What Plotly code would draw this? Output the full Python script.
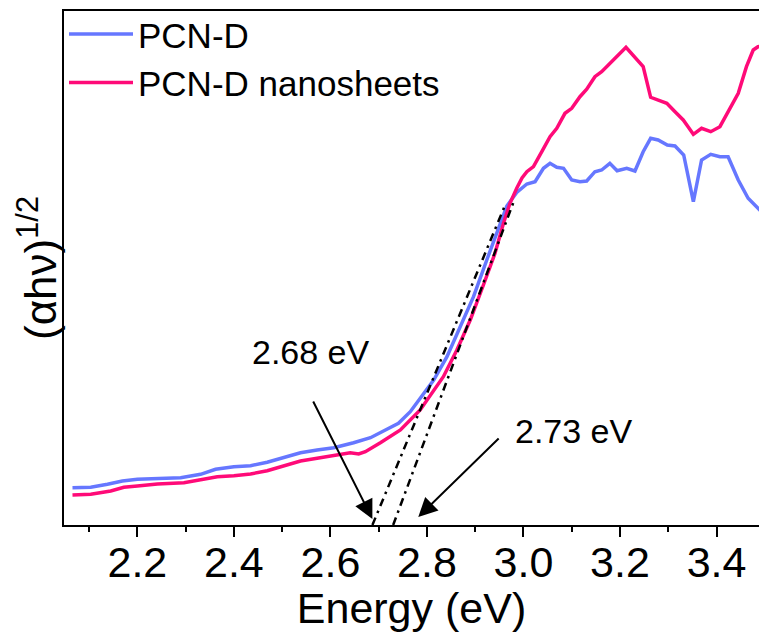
import plotly.graph_objects as go

# ---- data ----
pcn_d_energy = [2.0656, 2.1034, 2.138, 2.169, 2.200, 2.2415, 2.2897, 2.331, 2.362, 2.400,
                2.4345, 2.469, 2.503, 2.538, 2.5725, 2.607, 2.648, 2.683, 2.717, 2.741,
                2.7655, 2.786, 2.814, 2.8415, 2.869, 2.8965, 2.924, 2.948, 2.9655, 2.986,
                3.007, 3.024, 3.0414, 3.055, 3.069, 3.083, 3.100, 3.117, 3.131, 3.148,
                3.162, 3.179, 3.194, 3.214, 3.231, 3.248, 3.2635, 3.279, 3.298, 3.314,
                3.332, 3.352, 3.369, 3.388, 3.407, 3.424, 3.445, 3.4655, 3.486, 3.50]
pcn_d_signal = [0.373, 0.377, 0.407, 0.44, 0.457, 0.463, 0.473, 0.507, 0.557, 0.583,
                0.593, 0.627, 0.677, 0.723, 0.75, 0.773, 0.823, 0.873, 0.957, 1.017,
                1.133, 1.267, 1.45, 1.683, 1.983, 2.283, 2.65, 2.95, 3.19, 3.325,
                3.41, 3.433, 3.567, 3.617, 3.577, 3.567, 3.45, 3.433, 3.44, 3.533,
                3.55, 3.617, 3.543, 3.567, 3.54, 3.733, 3.867, 3.85, 3.80, 3.79,
                3.70, 3.233, 3.65, 3.707, 3.683, 3.683, 3.45, 3.267, 3.167, 3.10]

nano_energy = [2.0656, 2.1034, 2.1448, 2.172, 2.200, 2.2415, 2.2965, 2.331, 2.3656, 2.400,
               2.4345, 2.469, 2.503, 2.538, 2.5725, 2.607, 2.641, 2.6586, 2.6724, 2.7035,
               2.745, 2.786, 2.803, 2.834, 2.862, 2.8897, 2.917, 2.941, 2.9586, 2.972,
               2.986, 2.997, 3.007, 3.0207, 3.038, 3.055, 3.069, 3.086, 3.100, 3.117,
               3.131, 3.148, 3.162, 3.179, 3.1965, 3.2124, 3.2276, 3.248, 3.2635, 3.279,
               3.297, 3.314, 3.331, 3.341, 3.352, 3.369, 3.388, 3.407, 3.4276, 3.445,
               3.462, 3.476, 3.486, 3.50]
nano_signal = [0.30, 0.307, 0.34, 0.377, 0.39, 0.41, 0.423, 0.45, 0.483, 0.493,
               0.51, 0.543, 0.593, 0.64, 0.667, 0.697, 0.723, 0.71, 0.733, 0.823,
               0.95, 1.15, 1.267, 1.483, 1.75, 2.05, 2.40, 2.717, 3.017, 3.217,
               3.367, 3.47, 3.533, 3.583, 3.733, 3.883, 3.967, 4.117, 4.167, 4.283,
               4.357, 4.483, 4.533, 4.61, 4.70, 4.777, 4.69, 4.583, 4.277, 4.25,
               4.217, 4.133, 4.05, 3.983, 3.907, 3.967, 3.933, 3.983, 4.167, 4.317,
               4.583, 4.75, 4.783, 4.80]

# tangent (Tauc) extrapolation lines
tangent1_energy = [2.687, 2.962]
tangent1_signal = [0.0, 3.20]
tangent2_energy = [2.730, 2.981]
tangent2_signal = [0.0, 3.25]

# annotations: label text, label position, arrow tail, arrow tip
labels = ["2.68 eV", "2.73 eV"]
label_x = [2.5607, 3.1048]
label_y = [1.73, 0.94]
arrow_tail_x = [2.5628, 2.9517]
arrow_tail_y = [1.25, 0.88]
arrow_tip_x = [2.687, 2.782]
arrow_tip_y = [0.06, 0.08]

tick_vals = [2.2, 2.4, 2.6, 2.8, 3.0, 3.2, 3.4]
tick_text = ["2.2", "2.4", "2.6", "2.8", "3.0", "3.2", "3.4"]

FONT = "Liberation Sans, Arial, sans-serif"
BLUE = "#6677FF"
PINK = "#FF0A78"

fig = go.Figure()
fig.add_trace(go.Scatter(x=pcn_d_energy, y=pcn_d_signal, mode="lines", name="PCN-D",
                         line=dict(color=BLUE, width=3.5)))
fig.add_trace(go.Scatter(x=nano_energy, y=nano_signal, mode="lines", name="PCN-D nanosheets",
                         line=dict(color=PINK, width=3.5)))
fig.add_trace(go.Scatter(x=tangent1_energy, y=tangent1_signal, mode="lines", showlegend=False,
                         line=dict(color="black", width=2.5, dash="8px,5px,2.5px,5px")))
fig.add_trace(go.Scatter(x=tangent2_energy, y=tangent2_signal, mode="lines", showlegend=False,
                         line=dict(color="black", width=2.5, dash="8px,5px,2.5px,5px")))

for i in range(len(labels)):
    fig.add_annotation(x=label_x[i], y=label_y[i], text=labels[i], showarrow=False,
                       font=dict(family=FONT, size=34, color="black"),
                       xanchor="center", yanchor="middle")
    fig.add_annotation(x=arrow_tip_x[i], y=arrow_tip_y[i], ax=arrow_tail_x[i], ay=arrow_tail_y[i],
                       axref="x", ayref="y", text="", showarrow=True,
                       arrowhead=2, arrowsize=1.9, arrowwidth=2, arrowcolor="black")

# y-axis title
fig.add_annotation(xref="paper", yref="paper", x=0, y=0.5, xshift=-27,
                   text="(αhν)<sup>1/2</sup>", showarrow=False, textangle=-90,
                   font=dict(family=FONT, size=44, color="black"),
                   xanchor="center", yanchor="middle")

fig.update_layout(
    width=759, height=632,
    margin=dict(l=64, r=0, t=11, b=107),
    plot_bgcolor="white", paper_bgcolor="white",
    font=dict(family=FONT, color="black"),
    showlegend=True,
    legend=dict(x=0, y=1.012, xanchor="left", yanchor="top",
                font=dict(family=FONT, size=35, color="black"),
                bgcolor="rgba(0,0,0,0)", itemwidth=64, tracegroupgap=0),
    xaxis=dict(range=[2.048, 3.488], tickvals=tick_vals, ticktext=tick_text,
               showline=True, linecolor="black", linewidth=2, mirror=True,
               ticks="outside", ticklen=10, tickwidth=2, tickcolor="black",
               ticklabelstandoff=-12,
               minor=dict(dtick=0.1, tick0=2.0, ticks="outside", ticklen=5,
                          tickwidth=2, tickcolor="black", showgrid=False),
               showgrid=False, zeroline=False,
               tickfont=dict(family=FONT, size=43, color="black"),
               title=dict(text="Energy (eV)", font=dict(family=FONT, size=43, color="black"),
                          standoff=0)),
    yaxis=dict(range=[0, 5.14], showline=True, linecolor="black", linewidth=2,
               showticklabels=False, ticks="", showgrid=False, zeroline=False),
)

fig.write_html("out.html")
